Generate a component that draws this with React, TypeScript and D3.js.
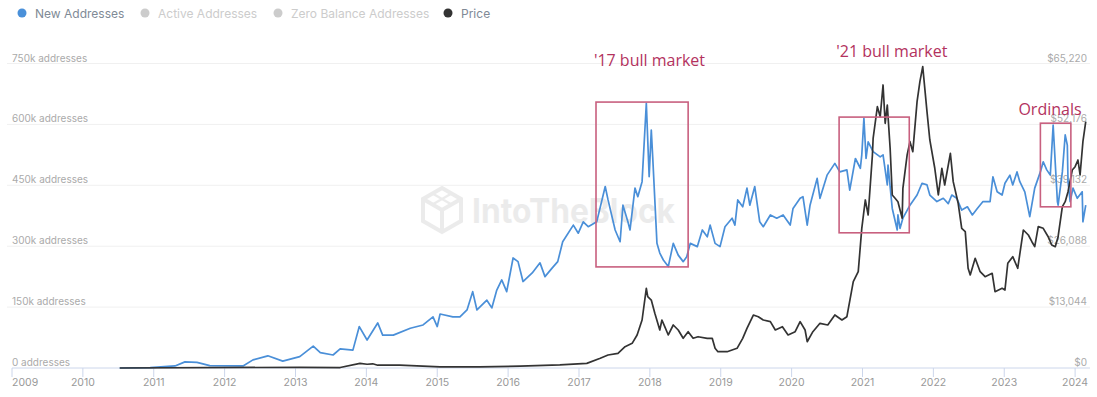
import { useMemo } from "react";
import * as d3 from "d3";

const WIDTH = 1097;
const HEIGHT = 397;
const MARGIN = { left: 12, right: 7, top: 63.5, bottom: 29 };
const FONT = "Inter, 'Noto Sans', sans-serif";

// New addresses, weekly-ish reading (decimal year, thousands of addresses)
const ADDR_YEARS = [
  2010.52, 2010.95, 2011.3, 2011.44, 2011.61, 2011.79, 2012.26, 2012.4, 2012.61, 2012.82,
  2013.06, 2013.25, 2013.35, 2013.53, 2013.63, 2013.81, 2013.9, 2014.01, 2014.16, 2014.23,
  2014.38, 2014.62, 2014.8, 2014.94, 2015.0, 2015.04, 2015.22, 2015.32, 2015.42, 2015.5,
  2015.56, 2015.7, 2015.77, 2015.84, 2015.91, 2015.98, 2016.07, 2016.14, 2016.21, 2016.34,
  2016.45, 2016.52, 2016.62, 2016.7, 2016.77, 2016.92, 2016.99, 2017.06, 2017.13, 2017.25,
  2017.37, 2017.41, 2017.51, 2017.58, 2017.62, 2017.69, 2017.72, 2017.79, 2017.83, 2017.89,
  2017.95, 2017.99, 2018.02, 2018.04, 2018.1, 2018.14, 2018.19, 2018.26, 2018.33, 2018.4,
  2018.47, 2018.52, 2018.57, 2018.67, 2018.74, 2018.81, 2018.85, 2018.92, 2018.99, 2019.06,
  2019.16, 2019.2, 2019.24, 2019.31, 2019.37, 2019.41, 2019.48, 2019.55, 2019.6, 2019.7,
  2019.79, 2019.88, 2019.98, 2020.02, 2020.12, 2020.16, 2020.22, 2020.26, 2020.36, 2020.4,
  2020.5, 2020.61, 2020.68, 2020.78, 2020.82, 2020.9, 2020.97, 2020.99, 2021.02, 2021.05,
  2021.08, 2021.15, 2021.25, 2021.29, 2021.35, 2021.36, 2021.42, 2021.49, 2021.5, 2021.53,
  2021.57, 2021.67, 2021.77, 2021.84, 2021.91, 2021.95, 2022.05, 2022.14, 2022.21, 2022.26,
  2022.33, 2022.4, 2022.48, 2022.55, 2022.62, 2022.7, 2022.8, 2022.84, 2022.9, 2022.97,
  2023.01, 2023.08, 2023.12, 2023.18, 2023.22, 2023.29, 2023.36, 2023.43, 2023.51, 2023.55,
  2023.6, 2023.65, 2023.69, 2023.75, 2023.76, 2023.82, 2023.86, 2023.89, 2023.9, 2023.93,
  2023.97, 2024.03, 2024.1, 2024.11, 2024.15,
];
const ADDR_VALUES = [
  0, 1, 5, 15, 14, 6, 5, 20, 30, 17,
  28, 54, 38, 32, 47, 44, 102, 69, 111, 81,
  81, 98, 106, 126, 102, 133, 126, 126, 143, 188,
  143, 167, 148, 192, 217, 188, 271, 262, 213, 234,
  259, 225, 246, 262, 311, 352, 332, 360, 348, 360,
  447, 414, 340, 311, 401, 360, 340, 443, 422, 459,
  652, 471, 586, 520, 307, 283, 266, 250, 307, 278,
  262, 274, 307, 299, 340, 323, 352, 307, 299, 348,
  369, 352, 414, 397, 443, 401, 447, 360, 348, 377,
  369, 377, 352, 393, 418, 422, 352, 401, 467, 418,
  475, 504, 483, 488, 438, 516, 492, 525, 615, 516,
  557, 533, 520, 525, 451, 500, 393, 340, 377, 344,
  369, 401, 426, 455, 451, 426, 410, 418, 405, 426,
  418, 389, 397, 377, 393, 410, 410, 471, 434, 426,
  455, 475, 451, 483, 459, 434, 373, 443, 483, 508,
  488, 475, 598, 410, 401, 483, 574, 549, 459, 410,
  443, 418, 434, 360, 401,
];

// BTC price (decimal year, USD)
const PRICE_YEARS = [
  2010.52, 2013.06, 2013.63, 2013.91, 2014.01, 2014.09, 2014.16, 2014.47, 2015.04, 2015.6,
  2016.17, 2016.73, 2017.11, 2017.3, 2017.41, 2017.55, 2017.65, 2017.75, 2017.82, 2017.89,
  2017.95, 2017.97, 2018.02, 2018.07, 2018.14, 2018.17, 2018.21, 2018.26, 2018.33, 2018.4,
  2018.47, 2018.54, 2018.61, 2018.68, 2018.81, 2018.88, 2018.92, 2018.96, 2019.09, 2019.23,
  2019.31, 2019.37, 2019.46, 2019.53, 2019.6, 2019.7, 2019.77, 2019.87, 2019.95, 2020.05,
  2020.12, 2020.19, 2020.22, 2020.3, 2020.4, 2020.51, 2020.61, 2020.71, 2020.78, 2020.87,
  2020.94, 2020.99, 2021.04, 2021.08, 2021.14, 2021.15, 2021.21, 2021.25, 2021.29, 2021.32,
  2021.35, 2021.39, 2021.42, 2021.46, 2021.5, 2021.56, 2021.57, 2021.63, 2021.67, 2021.71,
  2021.77, 2021.81, 2021.85, 2021.91, 2021.95, 2022.02, 2022.07, 2022.12, 2022.16, 2022.24,
  2022.28, 2022.35, 2022.4, 2022.45, 2022.49, 2022.52, 2022.59, 2022.66, 2022.73, 2022.83,
  2022.87, 2022.97, 2023.01, 2023.05, 2023.12, 2023.19, 2023.27, 2023.34, 2023.39, 2023.43,
  2023.48, 2023.55, 2023.62, 2023.67, 2023.72, 2023.76, 2023.82, 2023.86, 2023.9, 2023.96,
  2024.0, 2024.04, 2024.07, 2024.11, 2024.15,
];
const PRICE_VALUES = [
  0, 150, 100, 1000, 800, 900, 600, 600, 250, 250,
  400, 650, 1000, 2080, 2780, 3150, 4570, 5280, 7070, 10280,
  17070, 15270, 14560, 11720, 8140, 10280, 8850, 7070, 9210, 8140,
  6360, 7780, 6360, 6700, 6360, 6360, 4220, 3490, 3490, 4220,
  6360, 8500, 11350, 10990, 10280, 9920, 8140, 8850, 7070, 7780,
  9920, 8140, 5630, 7780, 9570, 9210, 11350, 10280, 10990, 18490,
  20630, 29920, 35990, 32770, 45630, 49200, 55970, 53830, 60620, 52410,
  56330, 47060, 37060, 36350, 35620, 32070, 38490, 45630, 48470, 46330,
  57040, 61330, 64540, 54900, 48840, 42780, 37060, 42780, 39200, 45990,
  39910, 35280, 29920, 29200, 21360, 19920, 23500, 20630, 19560, 20280,
  16340, 17070, 16710, 22430, 23850, 21360, 29560, 28490, 27050, 25980,
  30270, 29920, 28120, 26350, 25980, 28120, 34550, 35620, 37770, 42410,
  43120, 44550, 41340, 48470, 52760,
];

const ADDR_TICKS = [0, 150, 300, 450, 600, 750];
const PRICE_TICKS = [0, 13044, 26088, 39132, 52176, 65220];
const YEAR_TICKS = d3.range(2009, 2025);

const LEGEND_NAMES = ["New Addresses", "Active Addresses", "Zero Balance Addresses", "Price"];
const LEGEND_ACTIVE = [true, false, false, true];
const LEGEND_COLORS = ["#4a90d9", "#cccccc", "#cccccc", "#333333"];

// annotation boxes: [startYear, endYear, high k, low k]
const BOX_LABELS = ["'17 bull market", "'21 bull market", "Ordinals"];
const BOX_RANGES = [
  [2017.24, 2018.54, 655, 249],
  [2020.67, 2021.66, 618, 333],
  [2023.51, 2023.94, 603, 397],
];
const BOX_LABEL_POS = [
  [2017.21, 744],
  [2020.63, 766],
  [2023.2, 623],
];

export default function App() {
  const x = useMemo(
    () => d3.scaleLinear().domain([2009, 2024.21]).range([MARGIN.left, WIDTH - MARGIN.right]),
    []
  );
  const yAddr = useMemo(
    () => d3.scaleLinear().domain([0, 750]).range([HEIGHT - MARGIN.bottom, MARGIN.top]),
    []
  );
  const yPrice = useMemo(
    () => d3.scaleLinear().domain([0, 65220]).range([HEIGHT - MARGIN.bottom, MARGIN.top]),
    []
  );

  const addrLine = d3
    .line<number>()
    .x((_, i) => x(ADDR_YEARS[i]))
    .y((d) => yAddr(d));
  const priceLine = d3
    .line<number>()
    .x((_, i) => x(PRICE_YEARS[i]))
    .y((d) => yPrice(d));

  const baseY = yAddr(0);
  const priceFmt = (v: number) => "$" + d3.format(",")(v);

  const legendX = [22, 145, 278, 448];

  return (
    <svg
      width={WIDTH}
      height={HEIGHT}
      style={{ position: "absolute", left: 0, top: 0, background: "#fff" }}
      fontFamily={FONT}
    >
      {/* legend */}
      {LEGEND_NAMES.map((name, i) => (
        <g key={name} transform={`translate(${legendX[i]},13)`}>
          <circle r={4.5} fill={LEGEND_COLORS[i]} />
          <text
            x={13}
            y={4.5}
            fontSize={12}
            fill={LEGEND_ACTIVE[i] ? "#808a96" : "#cccccc"}
          >
            {name}
          </text>
        </g>
      ))}

      {/* watermark */}
      <g opacity={0.55}>
        <g transform="translate(442,210)" fill="none" stroke="#dcdcdc" strokeWidth={4}>
          <path d="M0,-22 L19,-11 L19,11 L0,22 L-19,11 L-19,-11 Z" />
          <path d="M-19,-11 L0,0 L19,-11 M0,0 L0,22" />
          <path d="M-9.5,-16.5 L9.5,-5.5 M9.5,-16.5 L-9.5,-5.5" strokeWidth={2.5} />
        </g>
        <text
          x={472}
          y={223}
          fontSize={34}
          fontWeight={700}
          fill="#dcdcdc"
          textLength={203}
          lengthAdjust="spacingAndGlyphs"
        >
          IntoTheBlock
        </text>
      </g>

      {/* grid */}
      {ADDR_TICKS.filter((t) => t > 0).map((t) => (
        <line
          key={t}
          x1={MARGIN.left - 5}
          x2={WIDTH - MARGIN.right}
          y1={yAddr(t)}
          y2={yAddr(t)}
          stroke="#f0f0f0"
          strokeWidth={1}
        />
      ))}

      {/* x axis */}
      <line x1={MARGIN.left} x2={WIDTH - MARGIN.right} y1={baseY} y2={baseY} stroke="#ccd6eb" />
      {YEAR_TICKS.map((yr, i) => (
        <g key={yr}>
          <line x1={x(yr)} x2={x(yr)} y1={baseY} y2={baseY + 9} stroke="#ccd6eb" />
          <text
            x={x(yr)}
            y={baseY + 18}
            fontSize={10.5}
            fill="#999"
            textAnchor={i === 0 ? "start" : "middle"}
          >
            {yr}
          </text>
        </g>
      ))}

      {/* left axis labels */}
      {ADDR_TICKS.map((t) => (
        <text key={t} x={MARGIN.left} y={yAddr(t) - 2} fontSize={10} fill="#aaa">
          {t === 0 ? "0 addresses" : `${t}k addresses`}
        </text>
      ))}

      {/* right axis labels */}
      {PRICE_TICKS.map((t) => (
        <text
          key={t}
          x={WIDTH - 10}
          y={yPrice(t) - 2}
          fontSize={10}
          fill="#aaa"
          textAnchor="end"
        >
          {priceFmt(t)}
        </text>
      ))}

      {/* series */}
      <path d={addrLine(ADDR_VALUES) || ""} fill="none" stroke="#4a8fd8" strokeWidth={1.7} strokeLinejoin="round" />
      <path d={priceLine(PRICE_VALUES) || ""} fill="none" stroke="#333" strokeWidth={1.7} strokeLinejoin="round" />

      {/* annotations */}
      {BOX_RANGES.map(([x0, x1, hi, lo], i) => (
        <rect
          key={i}
          x={x(x0)}
          y={yAddr(hi)}
          width={x(x1) - x(x0)}
          height={yAddr(lo) - yAddr(hi)}
          fill="none"
          stroke="#c8607f"
          strokeWidth={1.6}
        />
      ))}
      {BOX_LABELS.map((label, i) => (
        <text
          key={label}
          x={x(BOX_LABEL_POS[i][0])}
          y={yAddr(BOX_LABEL_POS[i][1])}
          fontSize={16}
          fill="#b3325e"
          fontFamily="'Open Sans', 'Noto Sans', sans-serif"
        >
          {label}
        </text>
      ))}
    </svg>
  );
}
